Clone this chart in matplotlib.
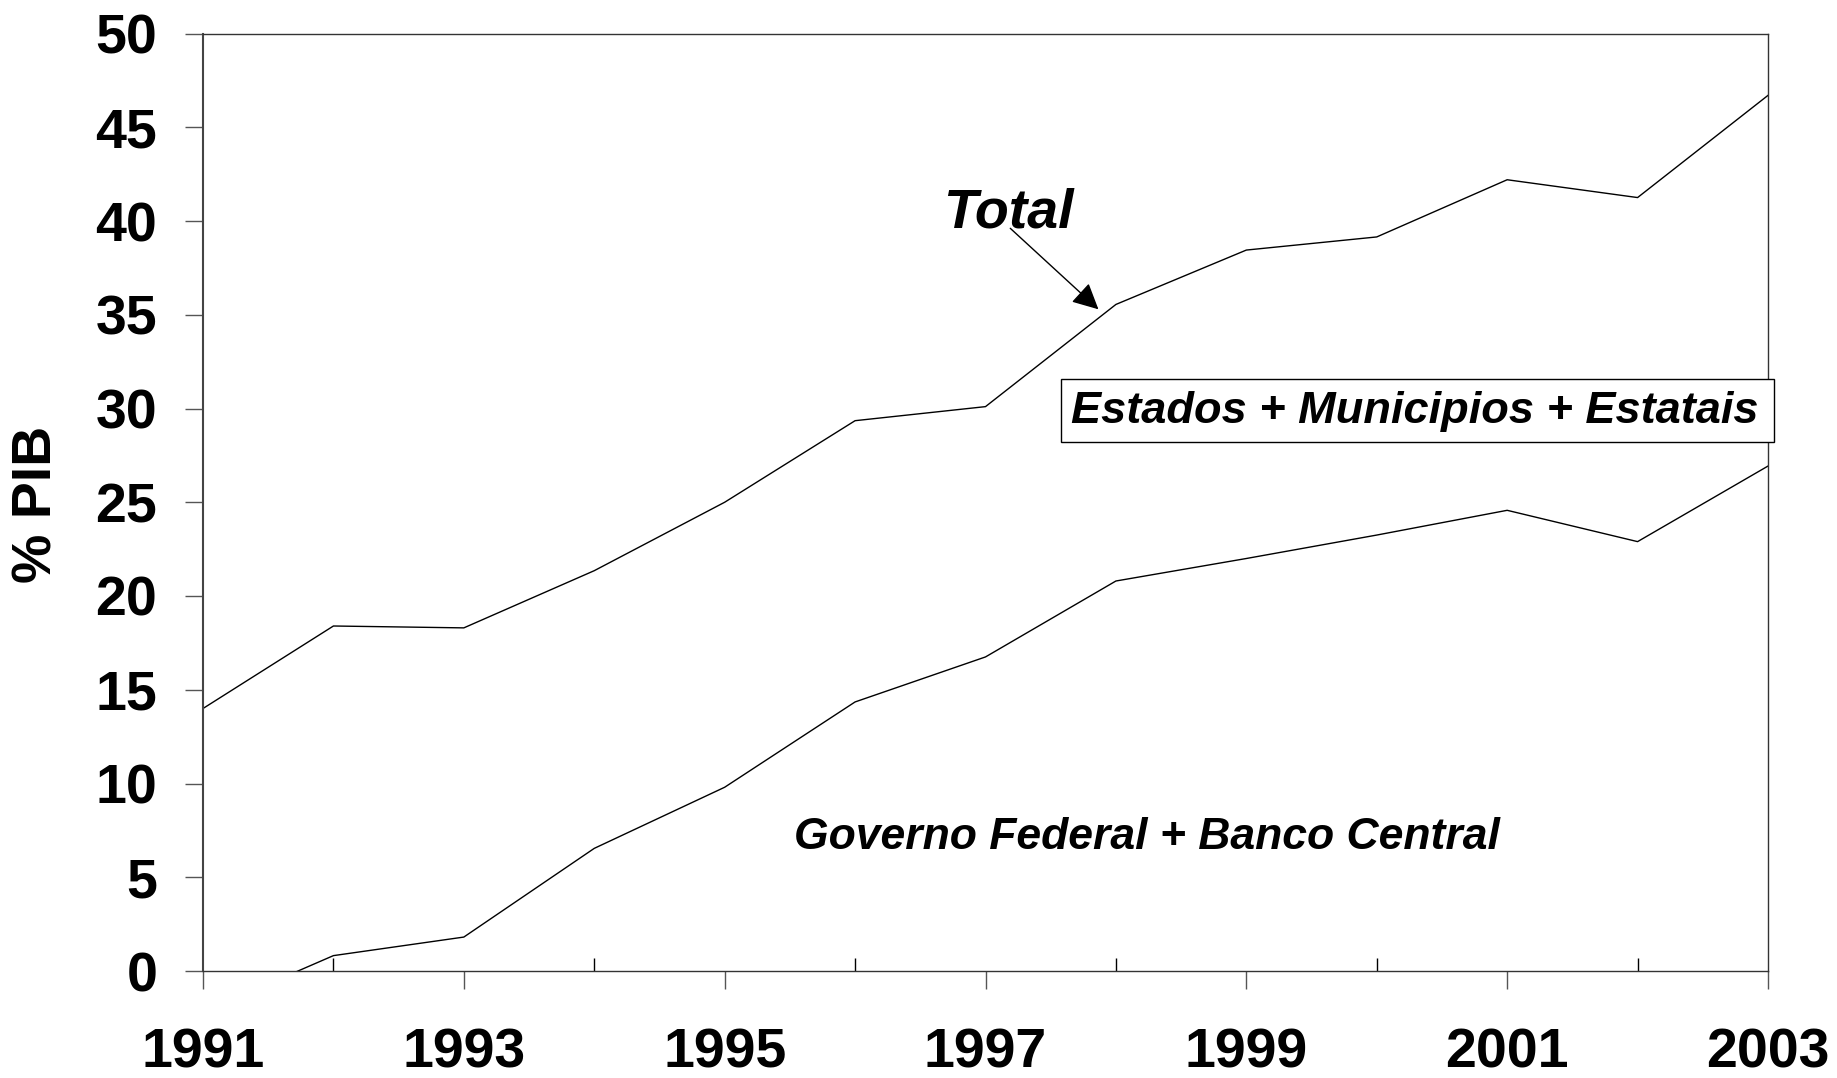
import matplotlib
matplotlib.use("Agg")
import matplotlib.pyplot as plt
from matplotlib.patches import Rectangle
from matplotlib.ticker import MultipleLocator

plt.rcParams['font.family'] = ['Liberation Sans', 'DejaVu Sans']

years = [1991, 1992, 1993, 1994, 1995, 1996, 1997, 1998, 1999, 2000, 2001, 2002, 2003]
# divida total (% PIB)
total = [14.0, 18.4, 18.3, 21.35, 25.0, 29.35, 30.1, 35.55, 38.45, 39.15, 42.2, 41.25, 46.7]
# governo federal + banco central (1991 negativo, cortado no zero)
federal = [-2.2, 0.82, 1.81, 6.54, 9.8, 14.35, 16.75, 20.8, 22.0, 23.25, 24.57, 22.9, 26.93]

year_labels = [1991, 1993, 1995, 1997, 1999, 2001, 2003]
y_ticks = [0, 5, 10, 15, 20, 25, 30, 35, 40, 45, 50]

fig = plt.figure(figsize=(18.37, 10.78), dpi=100)
ax = fig.add_axes([203/1837, 1-971/1078, 1565/1837, 937.5/1078])

ax.plot(years, total, color='black', lw=1.0)
ax.plot(years, federal, color='black', lw=1.0)

ax.set_xlim(1991, 2003)
ax.set_ylim(0, 50)

ax.set_xticks(year_labels)
ax.set_xticklabels([str(y) for y in year_labels])
ax.xaxis.set_minor_locator(MultipleLocator(1))
ax.set_yticks(y_ticks)

ax.tick_params(axis='x', which='major', direction='out', length=13, width=1,
               color='#555555', pad=28, labelsize=40)
ax.tick_params(axis='x', which='minor', direction='in', length=9.5, width=1,
               color='black')
ax.tick_params(axis='y', which='major', direction='out', length=13, width=1,
               color='#555555', pad=20, labelsize=40)
for lab in ax.get_xticklabels() + ax.get_yticklabels():
    lab.set_fontweight('bold')

for side in ['top', 'right', 'bottom']:
    ax.spines[side].set_linewidth(1.0)
    ax.spines[side].set_color('#333333')
ax.spines['left'].set_linewidth(1.5)
ax.spines['left'].set_color('#444444')

fig.text(38/1837, 1-504/1078, '% PIB', rotation=90, ha='center', va='center',
         fontsize=40, fontweight='bold')

# Total + seta
fig.text(943/1837, 1-228/1078, 'Total', ha='left', va='baseline',
         fontsize=40, fontweight='bold', style='italic')
ax.annotate('', xy=(1997.866, 35.29), xytext=(1997.19, 39.61),
            arrowprops=dict(arrowstyle='-|>,head_length=0.4,head_width=0.2',
                            mutation_scale=40, lw=1, color='black',
                            shrinkA=0, shrinkB=0))

# caixa Estados + Municipios + Estatais
fig.patches.append(Rectangle((1061/1837, 1-442/1078), 713/1837, 63/1078,
                             transform=fig.transFigure, fc='white',
                             ec='black', lw=1.0, zorder=5))
fig.text(1415/1837, 1-423/1078, 'Estados + Municipios + Estatais',
         ha='center', va='baseline', fontsize=32.5, fontweight='bold',
         style='italic', zorder=6)

fig.text(1147/1837, 1-849/1078, 'Governo Federal + Banco Central',
         ha='center', va='baseline', fontsize=32, fontweight='bold',
         style='italic')

fig.savefig('out.png', dpi=100)
